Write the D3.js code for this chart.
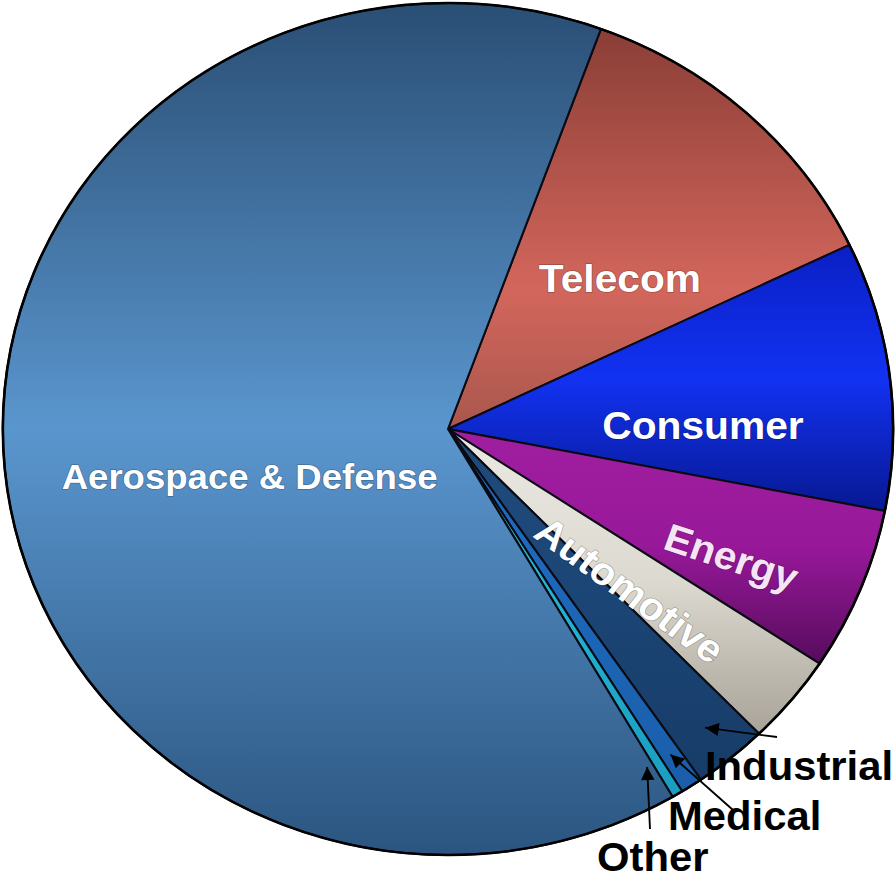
<!DOCTYPE html>
<html>
<head>
<meta charset="utf-8">
<script src="https://cdn.jsdelivr.net/npm/d3@7"></script>
<style>
  body { margin: 0; background: #fff; }
  svg text { font-family: "Liberation Sans", Arial, sans-serif; font-weight: bold; }
</style>
</head>
<body>
<div id="chart"></div>
<script>
// market share by segment (percent), clockwise starting at the top-right
const categories = ['Telecom', 'Consumer', 'Energy', 'Automotive', 'Industrial', 'Medical', 'Other', 'Aerospace & Defense']
const shares = [12.3, 10.2, 6.2, 3.4, 2.7, 0.8, 0.4, 64.0]

let width = 896
let height = 880
let cx = 448
let cy = 429
let radius = 426
let stretch = 1.045 // the original picture is slightly wider than tall

// vertical gradient stops per slice: top, middle, bottom
let gradients = {
  'Telecom': ['#8a3e36', '#d3665c', '#a9574d'],
  'Consumer': ['#0a1fc4', '#1232f2', '#071891'],
  'Energy': ['#a01fa0', '#98189a', '#560c5c'],
  'Automotive': ['#ebe9e3', '#dcd9d0', '#a9a398'],
  'Industrial': ['#1f4b7c', '#1b4575', '#173c68'],
  'Medical': ['#1f6dc2', '#1c66b8', '#1a5eaa'],
  'Other': ['#2fc2e0', '#22b0d2', '#1a9cc0'],
  'Aerospace & Defense': ['#2a4e74', '#5a96ce', '#2b5580']
}

// inside labels: shift from slice mid-angle (deg), distance from centre, rotation
let insideLabels = {
  'Telecom': { da: 5.3, r: 223, rot: 0, size: 39, fill: '#fff' },
  'Consumer': { da: 6.4, r: 244, rot: 0, size: 39, fill: '#fff' },
  'Energy': { da: 3, r: 300, rot: 19, size: 39, fill: '#f6e4f6' },
  'Automotive': { da: 3.2, r: 237, rot: 37, size: 39, fill: '#fff' },
  'Aerospace & Defense': { da: -9.3, r: 196, rot: 0, size: 35, fill: '#fff' }
}

// outside callouts, text and line tail in page pixels
let callouts = {
  'Industrial': { tipR: 387, tail: [777, 737], text: [705, 780] },
  'Medical': { tipR: 389, tail: [733, 810], text: [668, 830] },
  'Other': { tipR: 388, da: 1.6, tail: [650, 829], text: [597, 871] }
}

let toLocal = p => [(p[0] - cx) / stretch, p[1] - cy]
let rad = deg => deg * Math.PI / 180

let svg = d3
  .select('#chart')
  .append('svg')
  .attr('width', width)
  .attr('height', height)

let defs = svg.append('defs')

categories.forEach((c, i) => {
  let g = defs
    .append('linearGradient')
    .attr('id', 'grad-' + i)
    .attr('x1', 0)
    .attr('y1', 0)
    .attr('x2', 0)
    .attr('y2', 1)
  let stops = gradients[c]
  g.append('stop').attr('offset', '0%').attr('stop-color', stops[0])
  g.append('stop').attr('offset', c === 'Telecom' ? '65%' : '50%').attr('stop-color', stops[1])
  g.append('stop').attr('offset', '100%').attr('stop-color', stops[2])
})

defs
  .append('marker')
  .attr('id', 'arrow')
  .attr('viewBox', '0 0 10 10')
  .attr('refX', 0)
  .attr('refY', 5)
  .attr('markerUnits', 'userSpaceOnUse')
  .attr('markerWidth', 17)
  .attr('markerHeight', 13)
  .attr('orient', 'auto')
  .append('path')
  .attr('d', 'M0,5L10,0L10,10Z')
  .attr('fill', '#000')

let startAngle = rad(20.1)
let pie = d3
  .pie()
  .sort(null)
  .value(d => d.value)
  .startAngle(startAngle)
  .endAngle(startAngle + 2 * Math.PI)

let arc = d3.arc().innerRadius(0).outerRadius(radius)

let data = categories.map((c, i) => ({ name: c, value: shares[i], index: i }))
let arcs = pie(data)

let chart = svg
  .append('g')
  .attr('transform', `translate(${cx},${cy}) scale(${stretch},1)`)

chart
  .selectAll('.slice')
  .data(arcs)
  .enter()
  .append('path')
  .attr('class', 'slice')
  .attr('d', arc)
  .attr('fill', d => `url(#grad-${d.data.index})`)
  .attr('stroke', '#0b0b14')
  .attr('stroke-width', 2)
  .attr('stroke-linejoin', 'round')

// outer rim
chart
  .append('circle')
  .attr('r', radius)
  .attr('fill', 'none')
  .attr('stroke', '#000')
  .attr('stroke-width', 2.5)

let polar = (angle, r) => [r * Math.sin(angle), -r * Math.cos(angle)]

// labels inside the slices
chart
  .selectAll('.inside-label')
  .data(arcs.filter(d => insideLabels[d.data.name]))
  .enter()
  .append('text')
  .attr('class', 'inside-label')
  .attr('transform', d => {
    let l = insideLabels[d.data.name]
    let mid = (d.startAngle + d.endAngle) / 2 + rad(l.da)
    let p = polar(mid, l.r)
    return `translate(${p[0]},${p[1]}) rotate(${l.rot})`
  })
  .attr('text-anchor', 'middle')
  .attr('dominant-baseline', 'central')
  .attr('font-size', d => insideLabels[d.data.name].size)
  .attr('fill', d => insideLabels[d.data.name].fill)
  .style('paint-order', 'stroke')
  .attr('stroke', 'rgba(0,0,0,0.25)')
  .attr('stroke-width', 1.5)
  .text(d => d.data.name)

// callouts for the thin slices
let small = arcs.filter(d => callouts[d.data.name])

chart
  .selectAll('.leader')
  .data(small)
  .enter()
  .append('line')
  .attr('class', 'leader')
  .each(function(d) {
    let c = callouts[d.data.name]
    let mid = (d.startAngle + d.endAngle) / 2 + rad(c.da || 0)
    let tip = polar(mid, c.tipR)
    let tail = toLocal(c.tail)
    d3.select(this)
      .attr('x1', tip[0])
      .attr('y1', tip[1])
      .attr('x2', tail[0])
      .attr('y2', tail[1])
  })
  .attr('stroke', '#000')
  .attr('stroke-width', 1.8)
  .attr('marker-start', 'url(#arrow)')

chart
  .selectAll('.outside-label')
  .data(small)
  .enter()
  .append('text')
  .attr('class', 'outside-label')
  .attr('x', d => toLocal(callouts[d.data.name].text)[0])
  .attr('y', d => toLocal(callouts[d.data.name].text)[1])
  .attr('font-size', 40)
  .attr('fill', '#000')
  .text(d => d.data.name)
</script>
</body>
</html>
